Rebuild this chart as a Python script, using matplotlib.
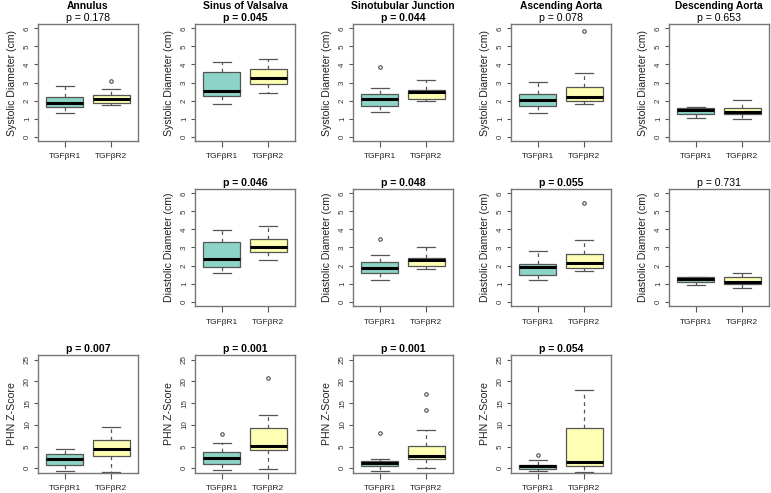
import matplotlib.pyplot as plt
import numpy as np

# ---- data ----
sites = ["Annulus", "Sinus of Valsalva", "Sinotubular Junction",
         "Ascending Aorta", "Descending Aorta"]
groups = ["TGF\u03b2R1", "TGF\u03b2R2"]

# five-number summaries: whislo, q1, median, q3, whishi
sys_p = [0.178, 0.045, 0.044, 0.078, 0.653]
sys_r1 = [[1.33, 1.64, 1.86, 2.19, 2.82], [1.82, 2.27, 2.54, 3.56, 4.12],
          [1.38, 1.71, 2.07, 2.35, 2.71], [1.30, 1.70, 2.02, 2.38, 3.02],
          [1.06, 1.25, 1.47, 1.60, 1.65]]
sys_r2 = [[1.75, 1.86, 2.07, 2.31, 2.63], [2.41, 2.90, 3.24, 3.75, 4.31],
          [1.96, 2.08, 2.50, 2.60, 3.15], [1.80, 2.00, 2.18, 2.74, 3.52],
          [0.97, 1.26, 1.39, 1.60, 2.03]]
sys_r1_out = [[], [], [3.88], [], []]
sys_r2_out = [[3.08], [], [], [5.85], []]

dia_p = [None, 0.046, 0.048, 0.055, 0.731]
dia_r1 = [None, [1.60, 1.94, 2.38, 3.31, 3.96], [1.20, 1.60, 1.85, 2.21, 2.60],
          [1.18, 1.49, 1.90, 2.10, 2.80], [0.90, 1.11, 1.26, 1.35, 1.38]]
dia_r2 = [None, [2.33, 2.73, 3.05, 3.47, 4.19], [1.79, 1.95, 2.33, 2.44, 3.04],
          [1.70, 1.86, 2.12, 2.63, 3.43], [0.77, 1.00, 1.09, 1.38, 1.59]]
dia_r1_out = [None, [], [3.49], [], []]
dia_r2_out = [None, [], [], [5.48], []]

phn_p = [0.007, 0.001, 0.001, 0.054, None]
phn_r1 = [[-0.6, 0.85, 2.2, 3.25, 4.45], [-0.4, 1.0, 2.45, 3.7, 5.9],
          [-0.7, 0.55, 1.15, 1.7, 2.1], [-0.7, -0.25, 0.4, 0.8, 1.8], None]
phn_r2 = [[-0.9, 2.9, 4.5, 6.4, 9.6], [-0.25, 4.2, 5.15, 9.3, 12.2],
          [0.0, 2.1, 2.9, 5.1, 8.7], [-0.85, 0.4, 1.45, 9.25, 18.1], None]
phn_r1_out = [[], [7.9], [8.2], [3.1], None]
phn_r2_out = [[], [20.8], [13.5, 17.1], [], None]

colors = ["#8DD3C7", "#FFFFB3"]

plt.rcParams['font.family'] = ['Liberation Sans', 'DejaVu Sans']

W, H = 771, 493
fig = plt.figure(figsize=(W / 100, H / 100), dpi=100)

col_left = [38, 195, 353, 511, 669]
row_top = [24, 189, 355]
row_h = [117, 117, 118]
aw = 100

rows = [
    (sys_p, sys_r1, sys_r2, sys_r1_out, sys_r2_out, "Systolic Diameter (cm)", (-0.24, 6.24), range(0, 7)),
    (dia_p, dia_r1, dia_r2, dia_r1_out, dia_r2_out, "Diastolic Diameter (cm)", (-0.24, 6.24), range(0, 7)),
    (phn_p, phn_r1, phn_r2, phn_r1_out, phn_r2_out, "PHN Z-Score", (-1.1, 26.1), range(0, 30, 5)),
]

for ri, (pv, r1, r2, o1, o2, ylab, ylim, yt) in enumerate(rows):
    for ci in range(5):
        if pv[ci] is None:
            continue
        left = col_left[ci] / W
        bottom = 1 - (row_top[ri] + row_h[ri]) / H
        ax = fig.add_axes([left, bottom, aw / W, row_h[ri] / H])
        stats = []
        for s, out, lab in ((r1[ci], o1[ci], groups[0]), (r2[ci], o2[ci], groups[1])):
            stats.append(dict(whislo=s[0], q1=s[1], med=s[2], q3=s[3], whishi=s[4],
                              fliers=out, label=lab))
        bp = ax.bxp(stats, positions=[1, 2], widths=0.8, patch_artist=True,
                    boxprops=dict(edgecolor="#555555", linewidth=0.9),
                    medianprops=dict(color="black", linewidth=2.2),
                    whiskerprops=dict(color="#555555", linewidth=0.9, linestyle=(0, (3, 3))),
                    capprops=dict(color="#555555", linewidth=0.9),
                    capwidths=0.4,
                    flierprops=dict(marker="o", markersize=2.5, markerfacecolor="none",
                                    markeredgecolor="#333333", markeredgewidth=0.7))
        for patch, c in zip(bp["boxes"], colors):
            patch.set_facecolor(c)
        ax.set_xlim(0.42, 2.58)
        ax.set_ylim(*ylim)
        ax.set_yticks(list(yt))
        ax.set_ylabel(ylab, fontsize=7.6, color="#222222", labelpad=5)
        ax.tick_params(axis="y", labelsize=5.8, labelrotation=90, length=3, color="#555555",
                       labelcolor="#333333", pad=2)
        ax.tick_params(axis="x", labelsize=6.0, length=4, color="#555555",
                       labelcolor="#222222", pad=5)
        for lbl in ax.get_yticklabels():
            lbl.set_va("center")
        for sp in ax.spines.values():
            sp.set_color("#777777")
            sp.set_linewidth(1.0)
        p = pv[ci]
        ax.text(0.5, 1.05, "p = %.3f" % p, transform=ax.transAxes, ha="center", va="center",
                fontsize=7.6, fontweight="bold" if p < 0.06 else "normal")
        if ri == 0:
            ax.text(0.5, 1.152, sites[ci], transform=ax.transAxes, ha="center", va="center",
                    fontsize=7.4, fontweight="bold")

fig.savefig("out.png", dpi=100)
